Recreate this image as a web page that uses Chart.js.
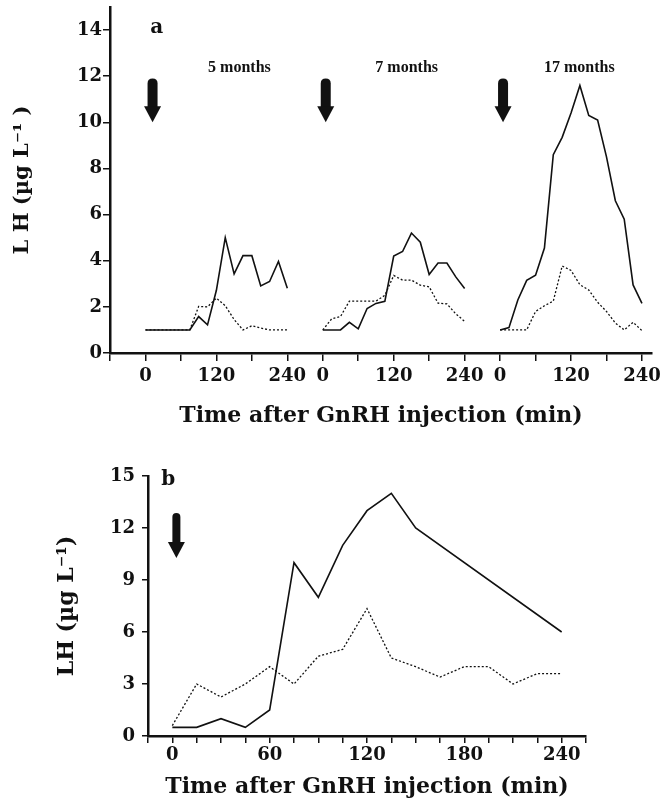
<!DOCTYPE html>
<html>
<head>
<meta charset="utf-8">
<script src="https://cdn.jsdelivr.net/npm/chart.js@4.4.0/dist/chart.umd.min.js"></script>
<style>
  html, body { margin: 0; padding: 0; background: #fff; }
  #wrap { position: relative; width: 662px; height: 806px; }
  #chartA { position: absolute; left: 0; top: 0; }
  #chartB { position: absolute; left: 0; top: 440px; }
</style>
</head>
<body>
<div id="wrap">
  <canvas id="chartA" width="662" height="440"></canvas>
  <canvas id="chartB" width="662" height="366"></canvas>
</div>
<script>
const INK = '#111';
const SERIF = '"DejaVu Serif", "Liberation Serif", serif';

// panel a : three GnRH tests, each sampled every 15 min from 0 to 240
const minutesA = [0, 15, 30, 45, 60, 75, 90, 105, 120, 135, 150, 165, 180, 195, 210, 225, 240];
const sessionNames = ['5 months', '7 months', '17 months'];
const sessionStart = [0, 300, 600]; // where each test's 0 min sits on the shared time axis

const lh5Solid = [1, 1, 1, 1, 1, 1, 1.58, 1.22, 2.72, 5.0, 3.43, 4.22, 4.22, 2.91, 3.1, 3.97, 2.81];
const lh5Dotted = [1, 1, 1, 1, 1, 1, 2.02, 2.0, 2.38, 2.05, 1.45, 1.0, 1.18, 1.08, 1.0, 1.0, 1.0];
const lh7Solid = [1, 1, 1, 1.33, 1.05, 1.93, 2.15, 2.24, 4.2, 4.4, 5.2, 4.8, 3.4, 3.9, 3.9, 3.3, 2.8];
const lh7Dotted = [1, 1.48, 1.58, 2.25, 2.25, 2.25, 2.25, 2.5, 3.36, 3.16, 3.16, 2.94, 2.87, 2.16, 2.13, 1.7, 1.37];
const lh17Solid = [1, 1.1, 2.3, 3.15, 3.37, 4.55, 8.6, 9.35, 10.4, 11.6, 10.3, 10.1, 8.5, 6.6, 5.8, 2.95, 2.15];
const lh17Dotted = [1, 1, 1, 1, 1.8, 2.05, 2.25, 3.77, 3.58, 2.96, 2.73, 2.2, 1.8, 1.3, 1.0, 1.33, 0.97];

const xTicksA = [-60, 0, 60, 120, 180, 240, 300, 360, 420, 480, 540, 600, 660, 720, 780, 840];
const xLabelsA = ['', '0', '', '120', '', '240', '0', '', '120', '', '240', '0', '', '120', '', '240'];
const yTicksA = [0, 2, 4, 6, 8, 10, 12, 14];

// panel b : single test
const minutesBSolid = [0, 15, 30, 45, 60, 75, 90, 105, 120, 135, 150, 240];
const lhBSolid = [0.5, 0.5, 1.0, 0.5, 1.5, 10, 8, 11, 13, 14, 12, 6];
const minutesBDotted = [0, 15, 30, 45, 60, 75, 90, 105, 120, 135, 150, 165, 180, 195, 210, 225, 240];
const lhBDotted = [0.6, 3.0, 2.25, 3.0, 4.0, 3.0, 4.6, 5.0, 7.35, 4.5, 4.0, 3.4, 4.0, 4.0, 3.0, 3.6, 3.6];

const xTicksB = [-15, 0, 15, 30, 45, 60, 75, 90, 105, 120, 135, 150, 165, 180, 195, 210, 225, 240, 255];
const xLabelsB = ['', '0', '', '', '', '60', '', '', '', '120', '', '', '', '180', '', '', '', '240', ''];
const yTicksB = [0, 3, 6, 9, 12, 15];

function points(xs, ys, shift) {
  return xs.map((t, i) => ({x: t + (shift || 0), y: ys[i]}));
}

function solid(data) {
  return {data: data, borderColor: INK, borderWidth: 1.6, pointRadius: 0, tension: 0, fill: false};
}
function dotted(data) {
  return {data: data, borderColor: INK, borderWidth: 1.3, borderDash: [2, 2], pointRadius: 0, tension: 0, fill: false};
}

// arrows and free text placed in data units
const marksPlugin = {
  id: 'marks',
  afterDatasetsDraw(chart, args, opts) {
    const ctx = chart.ctx;
    const x = chart.scales.x;
    const y = chart.scales.y;
    ctx.save();
    ctx.fillStyle = INK;
    (opts.arrows || []).forEach(function (a) {
      const cx = x.getPixelForValue(a.x);
      const y0 = y.getPixelForValue(a.top);
      const y1 = y.getPixelForValue(a.tip);
      const headY = y1 - opts.headLength;
      ctx.beginPath();
      ctx.moveTo(cx - opts.shaft / 2, headY + 1);
      ctx.lineTo(cx - opts.shaft / 2, y0 + opts.shaft / 2);
      ctx.quadraticCurveTo(cx - opts.shaft / 2, y0, cx, y0);
      ctx.quadraticCurveTo(cx + opts.shaft / 2, y0, cx + opts.shaft / 2, y0 + opts.shaft / 2);
      ctx.lineTo(cx + opts.shaft / 2, headY + 1);
      ctx.closePath();
      ctx.fill();
      ctx.beginPath();
      ctx.moveTo(cx - opts.headWidth / 2, headY);
      ctx.lineTo(cx + opts.headWidth / 2, headY);
      ctx.lineTo(cx, y1);
      ctx.closePath();
      ctx.fill();
    });
    (opts.labels || []).forEach(function (l) {
      ctx.font = l.font;
      ctx.textAlign = 'center';
      ctx.textBaseline = 'middle';
      ctx.fillText(l.text, x.getPixelForValue(l.x), y.getPixelForValue(l.y));
    });
    ctx.restore();
  }
};

function axis(extra) {
  return Object.assign({
    type: 'linear',
    border: {display: true, color: INK, width: 2.5},
    grid: {display: true, drawOnChartArea: false, drawTicks: true, color: INK, lineWidth: 1.5},
  }, extra);
}

const datasetsA = [
  solid(points(minutesA, lh5Solid, sessionStart[0])),
  dotted(points(minutesA, lh5Dotted, sessionStart[0])),
  solid(points(minutesA, lh7Solid, sessionStart[1])),
  dotted(points(minutesA, lh7Dotted, sessionStart[1])),
  solid(points(minutesA, lh17Solid, sessionStart[2])),
  dotted(points(minutesA, lh17Dotted, sessionStart[2])),
];

new Chart(document.getElementById('chartA'), {
  type: 'line',
  data: {datasets: datasetsA},
  plugins: [marksPlugin],
  options: {
    responsive: false,
    animation: false,
    devicePixelRatio: 1,
    events: [],
    layout: {padding: {left: 0, top: 7, right: 10, bottom: 0}},
    plugins: {
      legend: {display: false},
      tooltip: {enabled: false},
      marks: {
        shaft: 10, headWidth: 17, headLength: 16,
        arrows: sessionStart.map(s => ({x: s + (s === 0 ? 12 : 5), top: 11.9, tip: 10.0})),
        labels: [
          {text: 'a', x: 19, y: 14.1, font: 'bold 20px ' + SERIF},
          {text: sessionNames[0], x: 159, y: 12.35, font: 'bold 16px "Liberation Serif", serif'},
          {text: sessionNames[1], x: 442, y: 12.35, font: 'bold 16px "Liberation Serif", serif'},
          {text: sessionNames[2], x: 734, y: 12.35, font: 'bold 16px "Liberation Serif", serif'},
        ]
      }
    },
    scales: {
      x: axis({
        min: -60, max: 857,
        grid: {display: true, drawOnChartArea: false, drawTicks: true, color: INK, lineWidth: 1.5, tickLength: 8},
        afterBuildTicks: s => { s.ticks = xTicksA.map(v => ({value: v})); },
        afterFit: s => { s.height = 87; s.paddingLeft = 0; s.paddingRight = 0; },
        ticks: {
          autoSkip: false, maxRotation: 0, padding: 5, color: INK,
          font: {family: SERIF, weight: 'bold', size: 18},
          callback: (v, i) => xLabelsA[i]
        },
        title: {
          display: true, text: 'Time after GnRH injection (min)', color: INK,
          font: {family: SERIF, weight: 'bold', size: 22}, padding: {top: 0, bottom: 11}
        }
      }),
      y: axis({
        min: 0, max: 15,
        grid: {display: true, drawOnChartArea: false, drawTicks: true, color: INK, lineWidth: 1.5, tickLength: 7},
        afterBuildTicks: s => { s.ticks = yTicksA.map(v => ({value: v})); },
        afterFit: s => { s.width = 110; s.paddingTop = 0; s.paddingBottom = 0; },
        ticks: {padding: 1, color: INK, font: {family: SERIF, weight: 'bold', size: 18}},
        title: {
          display: true, text: 'L H (µg L⁻¹ )', color: INK,
          font: {family: SERIF, weight: 'bold', size: 21}, padding: {top: 10, bottom: 0}
        }
      })
    }
  }
});

new Chart(document.getElementById('chartB'), {
  type: 'line',
  data: {
    datasets: [
      solid(points(minutesBSolid, lhBSolid)),
      dotted(points(minutesBDotted, lhBDotted)),
    ]
  },
  plugins: [marksPlugin],
  options: {
    responsive: false,
    animation: false,
    devicePixelRatio: 1,
    events: [],
    layout: {padding: {left: 0, top: 36, right: 76, bottom: 0}},
    plugins: {
      legend: {display: false},
      tooltip: {enabled: false},
      marks: {
        shaft: 8, headWidth: 17, headLength: 16,
        arrows: [{x: 2.5, top: 12.87, tip: 10.27}],
        labels: [{text: 'b', x: -2.5, y: 14.8, font: 'bold 20px ' + SERIF}]
      }
    },
    scales: {
      x: axis({
        min: -15, max: 255,
        grid: {display: true, drawOnChartArea: false, drawTicks: true, color: INK, lineWidth: 1.5, tickLength: 7},
        afterBuildTicks: s => { s.ticks = xTicksB.map(v => ({value: v})); },
        afterFit: s => { s.height = 70; s.paddingLeft = 0; s.paddingRight = 0; },
        ticks: {
          autoSkip: false, maxRotation: 0, padding: 2, color: INK,
          font: {family: SERIF, weight: 'bold', size: 18},
          callback: (v, i) => xLabelsB[i]
        },
        title: {
          display: true, text: 'Time after GnRH injection (min)', color: INK,
          font: {family: SERIF, weight: 'bold', size: 22}, padding: {top: 0, bottom: 6}
        }
      }),
      y: axis({
        min: 0, max: 15,
        grid: {display: true, drawOnChartArea: false, drawTicks: true, color: INK, lineWidth: 1.5, tickLength: 6},
        afterBuildTicks: s => { s.ticks = yTicksB.map(v => ({value: v})); },
        afterFit: s => { s.width = 148; s.paddingTop = 0; s.paddingBottom = 0; },
        ticks: {padding: 7, color: INK, font: {family: SERIF, weight: 'bold', size: 18}},
        title: {
          display: true, text: 'LH (µg L⁻¹)', color: INK,
          font: {family: SERIF, weight: 'bold', size: 22}, padding: {top: 54, bottom: 0}
        }
      })
    }
  }
});
</script>
</body>
</html>
